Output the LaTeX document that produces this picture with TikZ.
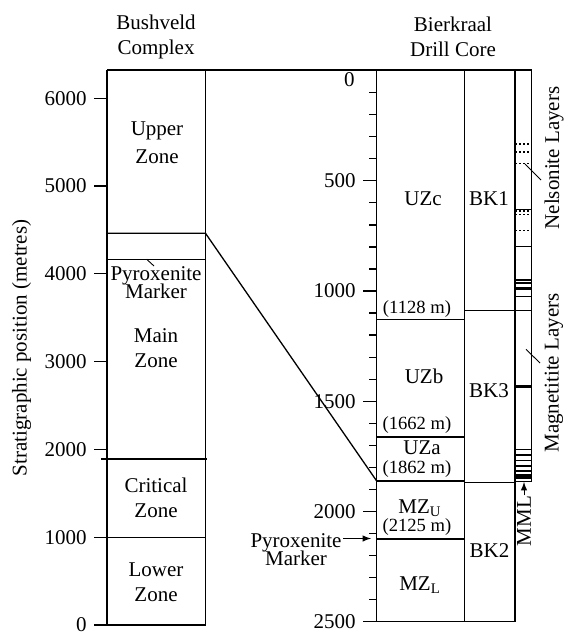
\documentclass[tikz,border=0pt]{standalone}
\usepackage{fontspec}
\setmainfont{Liberation Serif}
\begin{document}
\begin{tikzpicture}[x=0.5pt,y=-0.5pt,line width=0.65pt,
  every node/.style={font=\fontsize{10.5}{12.5}\selectfont},
  zone/.style={align=center,inner sep=0pt},
  prof/.style={font=\fontsize{9.3}{11}\selectfont,inner sep=0pt},
  verti/.style={rotate=90,inner sep=0pt},
  nelso/.style={dash pattern=on 1.2pt off 0.8pt,line width=0.7pt},
  fine/.style={line width=0.45pt}]
\useasboundingbox (0,0) rectangle (566,632);

% Cadres
\draw (107,70) -- (531.7,70);
\draw (107,70) -- (107,625) -- (205.5,625) -- (205.5,70);
\draw (376.7,70) -- (376.7,621.7) -- (515,621.7) -- (515,70);
\draw (464.3,70) -- (464.3,621.7);
\draw (531.7,70) -- (531.7,481.7) -- (515,481.7);

% Limites, colonne de gauche
\coordinate (uzL) at (107,233.3);
\coordinate (uzR) at (205.5,233.3);
\coordinate (uzB) at (376.7,481);
\draw (uzL) -- (uzR) -- (uzB);
\draw (107,259.3) -- (205.5,259.3);
\draw[line width=1pt] (101,459) -- (206.5,459);
\draw (107,537.5) -- (206,537.5);

% Graduations de gauche
\foreach \h/\txt in {0/0,1/1000,2/2000,3/3000,4/4000,5/5000,6/6000}
{
    \draw (107,{625-87.8*\h}) -- (94,{625-87.8*\h}) node[left] (gL\h) {\txt};
}

% Graduations de droite
\foreach \d in {0,100,...,2500}
{
    \draw (376.7,{70.5+0.2205*\d}) -- (369,{70.5+0.2205*\d});
}
\foreach \d in {500,1000,...,2500}
{
    \draw (376.7,{70.5+0.2205*\d}) -- (363,{70.5+0.2205*\d}) node[left] (gR\d) {\d};
}
\draw (376.7,70.5) -- (363,70.5);
\node[anchor=east] (gR0) at (362,80) {0};

% Limites, carotte
\foreach \y in {319.2,437,481,539.1}
{
    \draw (376.7,\y) -- (464.3,\y);
}
\draw (464.3,310.7) -- (531.7,310.7);
\draw (464.3,482.3) -- (515,482.3);

% Couches de nelsonite
\foreach \y in {144,152,163.7,211,214.7,230.3}
{
    \draw[nelso] (515,\y) -- (531.7,\y);
}
\draw[fine] (515,209) -- (531.7,209);

% Couches de magnetitite
\foreach \y/\w in {246/0.5pt,280/1pt,282.7/1pt,296/0.5pt,
                   449.5/0.9pt,455/0.9pt,460.5/0.9pt,466/0.9pt,471/0.9pt,
                   288.3/1.7pt,386.7/1.7pt,476.7/2.4pt}
{
    \draw[line width=\w] (515,\y) -- (531.7,\y);
}

% Textes, colonne de gauche
\node[zone] (bvTitre) at (156,37) {Bushveld\\Complex};
\node[zone] (upper) at (157,143) {Upper\\[1.5pt]Zone};
\node[zone] (pyrL) at (156,283) {Pyroxenite\\[-3.5pt]Marker};
\node[zone] (main) at (156,348) {Main\\Zone};
\node[zone] (critical) at (156,498) {Critical\\Zone};
\node[zone] (lower) at (156,582) {Lower\\Zone};
\node[verti] (axe) at (21.5,348) {Stratigraphic position (metres)};
\coordinate (pyrA) at (146.7,259.3);
\coordinate (pyrB) at (154,266);
\draw[fine] (pyrA) -- (pyrB);

% Textes, carotte
\node[zone] (bkTitre) at (453,37) {Bierkraal\\Drill Core};
\node[zone] (uzc) at (423,199) {UZc};
\node[zone] (bk1) at (489,199) {BK1};
\node[prof] (p1128) at (417,309) {(1128 m)};
\node[zone] (uzb) at (424,376) {UZb};
\node[zone] (bk3) at (489,391) {BK3};
\node[prof] (p1662) at (417,425) {(1662 m)};
\node[zone] (uza) at (422,447.5) {UZa};
\node[prof] (p1862) at (417,469.5) {(1862 m)};
\node[zone] (mzu) at (420,508) {MZ\textsubscript{U}};
\node[prof] (p2125) at (417,527) {(2125 m)};
\node[zone] (mzl) at (420,585) {MZ\textsubscript{L}};
\node[zone] (bk2) at (489.5,551) {BK2};
\node[zone] (pyrR) at (296,550) {Pyroxenite\\[-3.5pt]Marker};
\coordinate (pyrC) at (343,538.5);
\coordinate (pyrD) at (371,538.5);
\draw[-latex,fine] (pyrC) -- (pyrD);

% Couches, legendes
\node[verti] (nels) at (554,158) {Nelsonite Layers};
\node[verti] (magn) at (554,373) {Magnetitite Layers};
\node[verti] (mml) at (524,521) {MML};
\coordinate (nelA) at (541,180);
\coordinate (nelB) at (525,164);
\coordinate (magA) at (540,363);
\coordinate (magB) at (526,349.3);
\coordinate (mmlB) at (524,482);
\draw[fine] (nelA) -- (nelB);
\draw[fine] (magA) -- (magB);
\draw[-latex,fine] (mml.east) -- (mmlB);

\end{tikzpicture}
\end{document}
